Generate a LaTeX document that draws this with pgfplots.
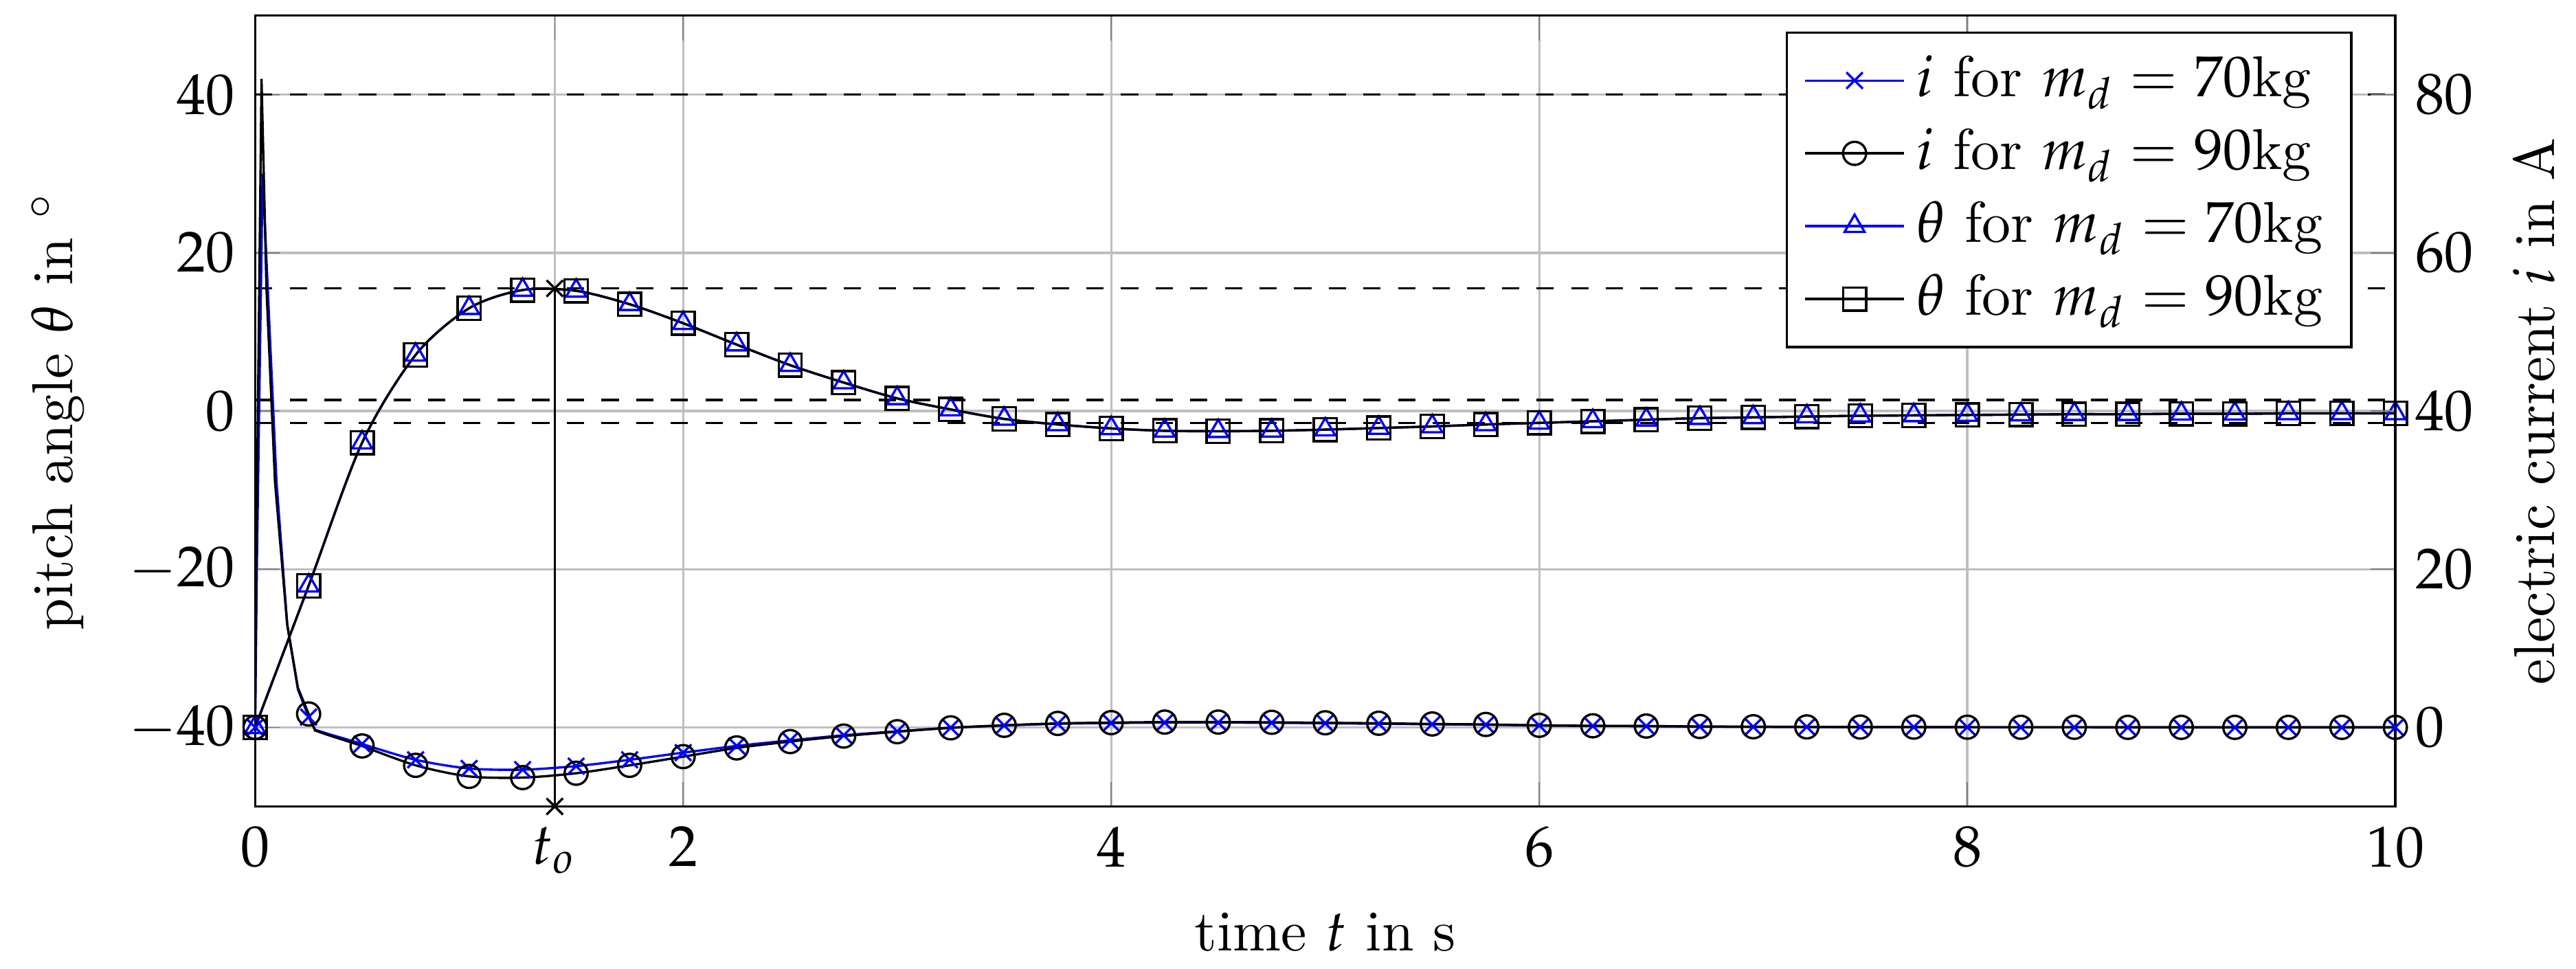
\documentclass[border=0pt]{standalone}
\usepackage{mathpazo}
\usepackage{pgfplots}
\usepackage{pgfplotstable}
\pgfplotsset{compat=1.18}

% sampled every 0.25 s: theta (deg), current (A)
\pgfplotstableread{
t th i70 i90
0 -40 0 0
0.25 -22.1 1.3 1.7
0.5 -4.0 -2.1 -2.35
0.75 7.1 -4.1 -4.8
1.0 13.0 -5.2 -6.2
1.25 15.3 -5.35 -6.35
1.5 15.2 -4.9 -5.8
1.75 13.5 -4.1 -4.8
2.0 11.1 -3.2 -3.7
2.25 8.4 -2.35 -2.6
2.5 5.8 -1.65 -1.8
2.75 3.6 -1.0 -1.1
3.0 1.6 -0.5 -0.55
3.25 0.2 -0.05 -0.06
3.5 -1.0 0.24 0.26
3.75 -1.7 0.45 0.5
4.0 -2.2 0.55 0.6
4.25 -2.5 0.6 0.67
4.5 -2.55 0.6 0.67
4.75 -2.5 0.58 0.64
5.0 -2.35 0.52 0.58
5.25 -2.15 0.46 0.52
5.5 -1.95 0.39 0.43
5.75 -1.7 0.33 0.37
6.0 -1.5 0.24 0.26
6.25 -1.3 0.18 0.2
6.5 -1.1 0.15 0.17
6.75 -0.9 0.1 0.11
7.0 -0.8 0.07 0.08
7.25 -0.7 0.05 0.06
7.5 -0.6 0.04 0.04
7.75 -0.55 0.03 0.03
8.0 -0.5 0.02 0.02
8.25 -0.45 0.01 0.01
8.5 -0.4 0.01 0.01
8.75 -0.4 0 0
9.0 -0.35 0 0
9.25 -0.35 0 0
9.5 -0.3 0 0
9.75 -0.3 0 0
10 -0.3 0 0
}\maintab

% current spike, 70 kg
\pgfplotstableread{
t i
0 0
0.008 20
0.035 70
0.059 55.5
0.1 31
0.15 13
0.2 4.8
0.25 1.3
0.28 -0.3
0.35 -0.9
0.42 -1.45
0.5 -2.1
}\spikeA

% current spike, 90 kg
\pgfplotstableread{
t i
0 0
0.005 20
0.03 82
0.053 55.5
0.093 31
0.15 13
0.2 5
0.25 1.7
0.28 -0.4
0.35 -1.05
0.42 -1.65
0.5 -2.35
}\spikeB

\begin{document}
\begin{tikzpicture}
\begin{axis}[
  name=ax,
  scale only axis,
  width=370.8pt, height=137pt,
  xmin=0, xmax=10, ymin=-50, ymax=50,
  xtick={0,1.4,2,4,6,8,10},
  xticklabels={$0$,$t_o$,$2$,$4$,$6$,$8$,$10$},
  ytick={-40,-20,0,20,40},
  ytick pos=left,
  grid=major,
  xlabel={time $t$ in s},
  ylabel={pitch angle $\theta$ in $^\circ$},
  ylabel shift=0.8pt,
  clip=false,
]
\addplot[black, dashed, forget plot] coordinates {(0,40) (10,40)};
\addplot[black, dashed, forget plot] coordinates {(0,15.5) (10,15.5)};
\addplot[black, dashed, forget plot] coordinates {(0,1.4) (10,1.4)};
\addplot[black, dashed, forget plot] coordinates {(0,-1.5) (10,-1.5)};
\addplot[black, mark=x, forget plot] coordinates {(1.4,-50) (1.4,15.5)};
% theta 70 kg
\addplot[blue, smooth, forget plot] table[x=t, y=th] {\maintab};
\addplot[blue, only marks, mark=triangle, forget plot] table[x=t, y=th] {\maintab};
% theta 90 kg
\addplot[black, smooth, forget plot] table[x=t, y=th] {\maintab};
\addplot[black, only marks, mark=square, forget plot] table[x=t, y=th] {\maintab};
\end{axis}

\begin{axis}[
  scale only axis,
  width=370.8pt, height=137pt,
  xmin=0, xmax=10, ymin=-10, ymax=90,
  axis y line*=right, axis x line=none,
  ytick={0,20,40,60,80},
  ylabel={electric current $i$ in A},
  legend cell align=left,
  legend style={at={(0.98,0.98)}, anchor=north east, draw=black, fill=white},
]
% i 70 kg
\addplot[blue, forget plot] table[x=t, y=i] {\spikeA};
\addplot[blue, smooth, forget plot, restrict x to domain=0.5:10] table[x=t, y=i70] {\maintab};
\addplot[blue, only marks, mark=x, forget plot] table[x=t, y=i70] {\maintab};
% i 90 kg
\addplot[black, forget plot] table[x=t, y=i] {\spikeB};
\addplot[black, smooth, forget plot, restrict x to domain=0.5:10] table[x=t, y=i90] {\maintab};
\addplot[black, only marks, mark=o, forget plot] table[x=t, y=i90] {\maintab};
\addlegendimage{blue, mark=x}
\addlegendentry{$i$ for $m_d = 70$kg}
\addlegendimage{black, mark=o}
\addlegendentry{$i$ for $m_d = 90$kg}
\addlegendimage{blue, mark=triangle}
\addlegendentry{$\theta$ for $m_d = 70$kg}
\addlegendimage{black, mark=square}
\addlegendentry{$\theta$ for $m_d = 90$kg}
\end{axis}
\pgfresetboundingbox
\path ([shift={(-44.2pt,-28.1pt)}]ax.south west) rectangle ([shift={(31.3pt,2.7pt)}]ax.north east);
\end{tikzpicture}
\end{document}
